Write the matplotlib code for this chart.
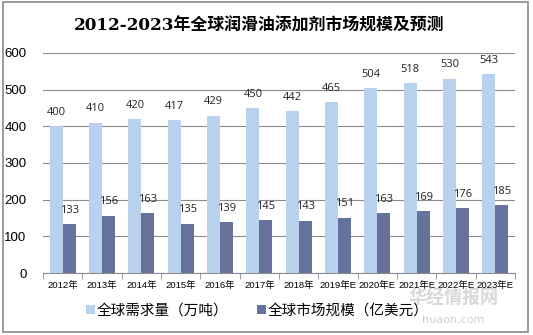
import matplotlib.pyplot as plt
from matplotlib.patches import Rectangle
import numpy as np

plt.rcParams['font.family'] = ['Liberation Sans', 'Noto Sans CJK SC']

years = ['2012年', '2013年', '2014年', '2015年', '2016年', '2017年', '2018年',
         '2019年E', '2020年E', '2021年E', '2022年E', '2023年E']
demand = [400, 410, 420, 417, 429, 450, 442, 465, 504, 518, 530, 543]
market = [133, 156, 163, 135, 139, 145, 143, 151, 163, 169, 176, 185]
name_demand = '全球需求量（万吨）'
name_market = '全球市场规模（亿美元）'
title = '2012-2023年全球润滑油添加剂市场规模及预测'

c_light = '#B8D2EE'
c_dark = '#64729C'


def main():
    fig = plt.figure(figsize=(5.33, 3.35), dpi=100)
    ax = fig.add_axes([0.081, 0.185, 0.885, 0.657])

    x = np.arange(len(years))
    w = 0.33
    b1 = ax.bar(x - w / 2, demand, w, color=c_light, label=name_demand, zorder=2)
    b2 = ax.bar(x + w / 2, market, w, color=c_dark, label=name_market, zorder=2)
    ax.bar_label(b1, padding=6, fontsize=8, color='#222222', family='Open Sans')
    ax.bar_label(b2, padding=6, fontsize=8, color='#222222', family='Open Sans')

    ax.set_xlim(-0.5, len(years) - 0.5)
    ax.set_ylim(0, 600)
    ax.set_yticks(np.arange(0, 601, 100))
    ax.yaxis.grid(True, color='#8c8c8c', linewidth=0.8, zorder=0)
    ax.set_axisbelow(True)

    for s in ['top', 'right', 'left']:
        ax.spines[s].set_visible(False)
    ax.spines['bottom'].set_color('#8c8c8c')

    ax.set_xticks(x)
    ax.set_xticklabels(years, fontsize=6.8)
    ax.set_xticks(np.arange(-0.5, len(years)), minor=True)
    ax.tick_params(axis='x', which='major', length=0, pad=6)
    ax.tick_params(axis='x', which='minor', length=4, color='#8c8c8c')
    ax.tick_params(axis='y', length=0, labelsize=9.5, pad=12)

    fig.text(0.486, 0.922, title, ha='center', va='center', fontsize=12.2,
             fontweight='bold', family=['DejaVu Serif', 'Noto Sans CJK SC'])

    fig.legend(handles=[b1, b2], loc='center', bbox_to_anchor=(0.483, 0.072),
               ncol=2, frameon=False, handlelength=0.6,
               handleheight=0.6, handletextpad=0.1, columnspacing=2.0,
               prop={'family': 'Noto Sans CJK SC', 'size': 10.5})

    # 水印
    fig.text(0.85, 0.108, '华经情报网', ha='center', va='center', fontsize=13,
             fontweight='bold', color='#c8c8c8', alpha=0.7,
             family='Noto Sans CJK SC', zorder=5)
    fig.text(0.85, 0.045, 'huaon.com', ha='center', va='center', fontsize=8,
             color='#d0d0d0', family='DejaVu Sans')

    fig.patches.append(Rectangle((0.006, 0.009), 0.985, 0.984,
                                 transform=fig.transFigure, fill=False,
                                 edgecolor='#8a8a8a', linewidth=1.2))

    fig.savefig('out.png', dpi=100)


if __name__ == "__main__":
    main()
